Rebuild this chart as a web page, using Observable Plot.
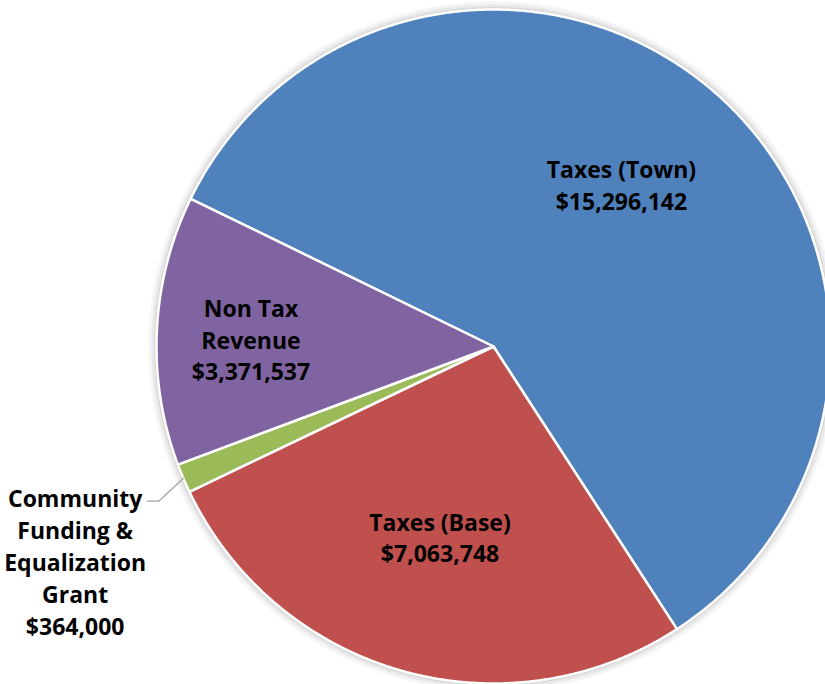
<!DOCTYPE html>
<html><head><meta charset="utf-8">
<script src="https://cdn.jsdelivr.net/npm/d3@7"></script>
<script src="https://cdn.jsdelivr.net/npm/@observablehq/plot@0.6"></script>
<style>body{margin:0;background:#fff} #chart svg{overflow:hidden;display:block}</style>
</head><body><div id="chart"></div>
<script>
const categories = ["Taxes (Town)", "Taxes (Base)", "Community Funding & Equalization Grant", "Non Tax Revenue"];
const values = [15296142, 7063748, 364000, 3371537];
const labelLines = [["Taxes (Town)"], ["Taxes (Base)"], ["Community", "Funding &", "Equalization", "Grant"], ["Non Tax", "Revenue"]];
const colors = ["#4F81BD", "#C0504D", "#9BBB59", "#8064A2"];

// layout (styles, not data)
const W = 825, H = 684, CX = 493, CY = 346, R = 337;
const START = 296 * Math.PI / 180;
const labelRadius = [0.615, 0.585, null, 0.72];
const labelAngleTweak = [-3.4, 0, 0, -0.8].map(d => d * Math.PI / 180);

const arcs = d3.pie().sort(null).startAngle(START).endAngle(START + 2 * Math.PI)(values);
const pt = (a, r) => [r * Math.sin(a), r * Math.cos(a)];

const polys = [];
arcs.forEach((a, i) => {
  const name = categories[i];
  polys.push({name, x: 0, y: 0});
  const n = Math.max(2, Math.ceil((a.endAngle - a.startAngle) / (Math.PI / 720)));
  for (let k = 0; k <= n; k++) {
    const t = a.startAngle + (a.endAngle - a.startAngle) * k / n;
    const [x, y] = pt(t, 1);
    polys.push({name, x, y});
  }
  polys.push({name, x: 0, y: 0});
});

// shadow rings
const ring = [];
for (let k = 0; k <= 720; k++) { const [x, y] = pt(k / 720 * 2 * Math.PI, 1); ring.push({x, y}); }

const fmt = d3.format(",");
const labels = [];
const leader = [];
arcs.forEach((a, i) => {
  const mid = (a.startAngle + a.endAngle) / 2;
  const text = [...labelLines[i], "$" + fmt(values[i])].join("\n");
  if (labelRadius[i] != null) {
    const [x, y] = pt(mid + labelAngleTweak[i], labelRadius[i]);
    labels.push({x, y, text});
  } else {
    const [x0, y0] = pt(mid, 1.0);
    const x1 = x0 - 0.073, y1 = y0 - 0.068;
    const x2 = x1 - 0.033;
    leader.push({x: x0, y: y0}, {x: x1, y: y1}, {x: x2, y: y1});
    labels.push({x: x2 - 0.215, y: y1 - 0.177, text});
  }
});

const font = "'Open Sans', Lato, sans-serif";
const chart = Plot.plot({
  width: W, height: H,
  marginTop: 0, marginRight: 0, marginBottom: 0, marginLeft: 0,
  x: {domain: [-1, 1], range: [CX - R, CX + R], axis: null},
  y: {domain: [-1, 1], range: [CY + R, CY - R], axis: null},
  color: {domain: categories, range: colors},
  marks: [
    Plot.line(ring, {x: "x", y: "y", stroke: "#000", strokeOpacity: 0.04, strokeWidth: 16}),
    Plot.line(ring, {x: "x", y: "y", stroke: "#000", strokeOpacity: 0.05, strokeWidth: 10}),
    Plot.line(ring, {x: "x", y: "y", stroke: "#000", strokeOpacity: 0.07, strokeWidth: 5}),
    Plot.line(polys, {x: "x", y: "y", z: "name", fill: "name", stroke: "white", strokeWidth: 2.5, strokeLinejoin: "round"}),
    Plot.line(leader, {x: "x", y: "y", stroke: "#A6A6A6", strokeWidth: 1.3}),
    Plot.text(labels, {x: "x", y: "y", text: "text", fill: "black", fontSize: 23, fontWeight: "bold", fontFamily: font, lineHeight: 1.39, lineAnchor: "middle", textAnchor: "middle"})
  ]
});
document.getElementById("chart").appendChild(chart);
</script>
</body></html>
